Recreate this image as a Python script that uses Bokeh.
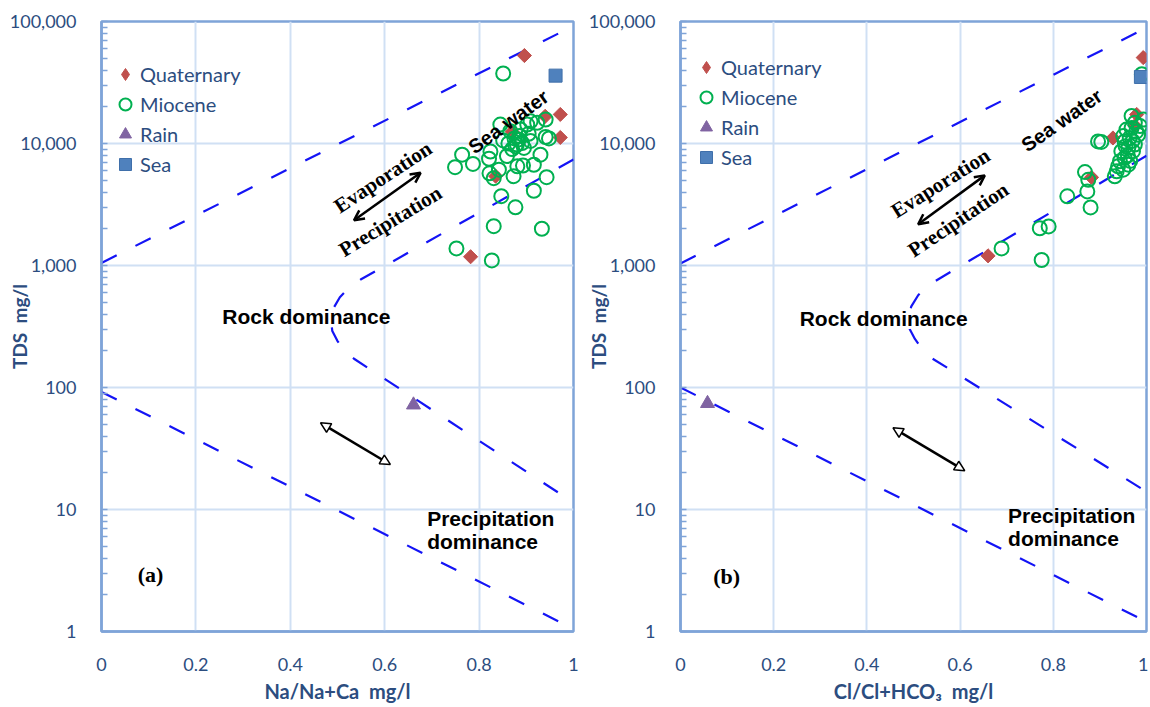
import math
from bokeh.plotting import figure
from bokeh.models import (Range1d, FixedTicker, NumeralTickFormatter, Legend, LegendItem,
                          Arrow, OpenHead, NormalHead, Label)
from bokeh.layouts import row
from bokeh.embed import file_html
from bokeh.resources import INLINE

# ---------------- tick values / labels ----------------
x_ticks = [0, 0.2, 0.4, 0.6, 0.8, 1]
x_tick_labels = ["0", "0.2", "0.4", "0.6", "0.8", "1"]
y_ticks = [1, 10, 100, 1000, 10000, 100000]
y_tick_labels = ["1", "10", "100", "1,000", "10,000", "100,000"]
y_minor = [m * d for d in [1, 10, 100, 1000, 10000] for m in range(2, 10)]

series_names = ["Quaternary", "Miocene", "Rain", "Sea"]

# ---------------- panel (a): Na/(Na+Ca) ----------------
a_quat_x = [0.896, 0.940, 0.972, 0.972, 0.835, 0.782, 0.870]
a_quat_tds = [52600, 16700, 17300, 11200, 5400, 1180, 12500]

a_mio_x = [0.851, 0.764, 0.749, 0.787, 0.821, 0.824, 0.845, 0.851, 0.859, 0.842,
           0.831, 0.873, 0.881, 0.893, 0.916, 0.930, 0.884, 0.877, 0.891, 0.909,
           0.902, 0.923, 0.941, 0.941, 0.948, 0.866, 0.888, 0.909, 0.943, 0.916,
           0.877, 0.847, 0.831, 0.933, 0.752, 0.827, 0.870, 0.880, 0.885, 0.895,
           0.875, 0.862, 0.822, 0.905]
a_mio_tds = [37500, 8100, 6400, 6800, 7500, 8600, 14300, 10600, 7900, 6100,
             5200, 5400, 6500, 6600, 6700, 8100, 10800, 9500, 10100, 10500,
             14300, 14800, 15700, 11300, 11000, 12600, 13000, 15200, 5300, 4100,
             3000, 3700, 2100, 2000, 1380, 1100, 9000, 9800, 11500, 9200,
             11000, 10000, 5700, 12000]

a_rain_x = [0.661]
a_rain_tds = [72]
a_sea_x = [0.962]
a_sea_tds = [36000]

# Gibbs boundaries, panel (a)
a_upper_x = [0.0, 1.0]
a_upper_tds = [1050, 92000]
a_mid_x = [1.0, 0.549, 0.525, 0.505, 0.492, 0.486, 0.489, 0.500, 0.515, 0.535, 1.0]
a_mid_tds = [7400, 767, 660, 550, 450, 360, 290, 240, 200, 172, 11.4]
a_lower_x = [0.0, 1.0]
a_lower_tds = [92, 1.05]

# ---------------- panel (b): Cl/(Cl+HCO3) ----------------
b_quat_x = [0.993, 0.928, 0.979, 0.882, 0.660, 0.975]
b_quat_tds = [50600, 11100, 17300, 5280, 1200, 14000]

b_mio_x = [0.896, 0.903, 0.868, 0.875, 0.873, 0.880, 0.830, 0.771, 0.790, 0.689,
           0.775, 0.939, 0.932, 0.950, 0.953, 0.961, 0.964, 0.968, 0.975, 0.993,
           0.982, 0.971, 0.953, 0.946, 0.943, 0.961, 0.975, 0.986, 0.968, 0.957,
           0.950, 0.936, 0.990, 0.960, 0.970, 0.978, 0.955, 0.965]
b_mio_tds = [10400, 10300, 5830, 5040, 4050, 2990, 3690, 2020, 2090, 1380,
             1110, 6500, 5380, 6100, 7620, 9200, 11100, 13400, 14800, 15700,
             11800, 8650, 10400, 8650, 7150, 6710, 9800, 13900, 16800, 13000,
             11500, 5910, 37000, 8000, 10500, 12500, 9500, 7200]

b_rain_x = [0.058]
b_rain_tds = [74]
b_sea_x = [0.988]
b_sea_tds = [35100]

b_upper_x = [0.0, 1.0]
b_upper_tds = [1040, 89000]
b_mid_x = [1.0, 0.556, 0.530, 0.510, 0.495, 0.490, 0.492, 0.503, 0.517, 0.535, 1.0]
b_mid_tds = [7950, 783, 680, 570, 460, 370, 300, 250, 210, 178, 14]
b_lower_x = [0.0, 1.0]
b_lower_tds = [100, 1.2]

# ---------------- styling ----------------
AXIS_BLUE = "#7FA4D8"
GRID_BLUE = "#D0E0F4"
TEXT_BLUE = "#2C4D7F"
DASH_BLUE = "#1414F5"
Q_COL = "#C0504D"
M_COL = "#00B050"
R_COL = "#8064A2"
S_COL = "#4F81BD"


def make_panel(cfg):
    p = figure(frame_width=cfg["fw"], frame_height=610,
               x_range=Range1d(0, 1), y_range=Range1d(1, 100000),
               y_axis_type="log", output_backend="svg", toolbar_location=None,
               min_border_left=cfg["bl"], min_border_right=cfg["br"],
               min_border_top=21, min_border_bottom=74)
    p.background_fill_color = "white"
    p.border_fill_color = "white"
    p.outline_line_color = AXIS_BLUE
    p.outline_line_width = 2.5

    p.xaxis.ticker = FixedTicker(ticks=x_ticks)
    p.xaxis.formatter = NumeralTickFormatter(format="0.[0]")
    p.xaxis.major_label_overrides = dict(zip(x_ticks, x_tick_labels))
    p.yaxis.ticker = FixedTicker(ticks=y_ticks, minor_ticks=y_minor)
    p.yaxis.formatter = NumeralTickFormatter(format="0,0")
    p.yaxis.major_label_overrides = dict(zip(y_ticks, y_tick_labels))

    for ax in (p.xaxis, p.yaxis):
        ax.axis_line_color = AXIS_BLUE
        ax.axis_line_width = 2.5
        ax.major_label_text_font = "Lato"
        ax.major_label_text_font_size = "18px"
        ax.major_label_text_color = TEXT_BLUE
        ax.axis_label_text_font = "Lato"
        ax.axis_label_text_font_style = "bold"
        ax.axis_label_text_color = TEXT_BLUE
    p.xaxis.major_tick_line_color = None
    p.xaxis.minor_tick_line_color = None
    p.xaxis.major_label_standoff = 20
    p.xaxis.axis_label = cfg["xtitle"]
    p.xaxis.axis_label_text_font_size = "20px"
    p.xaxis.axis_label_standoff = 5

    p.yaxis.major_tick_in = 6
    p.yaxis.major_tick_out = 0
    p.yaxis.minor_tick_in = 6
    p.yaxis.minor_tick_out = 0
    p.yaxis.major_tick_line_color = AXIS_BLUE
    p.yaxis.minor_tick_line_color = AXIS_BLUE
    p.yaxis.major_tick_line_width = 1.5
    p.yaxis.minor_tick_line_width = 1.5
    p.yaxis.major_label_standoff = 25
    p.yaxis.axis_label = "TDS \u00a0mg/l"
    p.yaxis.axis_label_text_font_size = "19px"
    p.yaxis.axis_label_standoff = -24

    p.xgrid.ticker = FixedTicker(ticks=x_ticks)
    p.ygrid.ticker = FixedTicker(ticks=y_ticks)
    for g in (p.xgrid, p.ygrid):
        g.grid_line_color = GRID_BLUE
        g.grid_line_width = 2

    # boundary lines
    for xs, ys in cfg["bounds"]:
        p.line(xs, ys, line_color=DASH_BLUE, line_width=2.2, line_dash="17 21")

    rq = p.scatter(cfg["q"][0], cfg["q"][1], marker="square", angle=math.pi / 4,
                   size=10, fill_color=Q_COL, line_color=Q_COL)
    rq_leg = p.scatter(cfg["q"][0], cfg["q"][1], marker="diamond", size=14,
                       fill_color=Q_COL, line_color=Q_COL, visible=False)
    rm = p.scatter(cfg["m"][0], cfg["m"][1], marker="circle", size=14,
                   fill_alpha=0, line_color=M_COL, line_width=2)
    rr = p.scatter(cfg["r"][0], cfg["r"][1], marker="triangle", size=14,
                   fill_color=R_COL, line_color=R_COL)
    rs = p.scatter(cfg["s"][0], cfg["s"][1], marker="square", size=13,
                   fill_color=S_COL, line_color="#3F6FAA")

    legend = Legend(items=[LegendItem(label=n, renderers=[r])
                           for n, r in zip(series_names, [rq_leg, rm, rr, rs])],
                    location=cfg["legend_loc"], glyph_width=30, glyph_height=30,
                    label_height=30, spacing=0, padding=0, margin=0, label_standoff=-3,
                    border_line_alpha=0, background_fill_alpha=0,
                    inactive_fill_alpha=0,
                    label_text_font="Lato", label_text_font_size="20px",
                    label_text_color=TEXT_BLUE)
    p.add_layout(legend)

    # arrows
    (ux0, uy0, ux1, uy1), (lx0, ly0, lx1, ly1) = cfg["arrows"]
    p.add_layout(Arrow(x_start=ux0, y_start=uy0, x_end=ux1, y_end=uy1,
                       line_width=2.5, line_color="black",
                       start=OpenHead(size=10, line_width=2.5, line_color="black"),
                       end=OpenHead(size=10, line_width=2.5, line_color="black")))
    p.add_layout(Arrow(x_start=lx0, y_start=ly0, x_end=lx1, y_end=ly1,
                       line_width=2.5, line_color="black",
                       start=NormalHead(size=10, line_width=1.5, line_color="black", fill_color="white"),
                       end=NormalHead(size=10, line_width=1.5, line_color="black", fill_color="white")))

    # annotations
    for (txt, x, y, ang, font, size, align) in cfg["texts"]:
        p.add_layout(Label(x=x, y=y, text=txt, angle=math.radians(ang),
                           text_font=font, text_font_style="bold",
                           text_font_size=size, text_color="black",
                           text_align=align, text_baseline="middle"))
    return p


SANS = "Liberation Sans"
SERIF = "Liberation Serif"

cfg_a = dict(fw=472, bl=101, br=10,
             bounds=[(a_upper_x, a_upper_tds), (a_mid_x, a_mid_tds), (a_lower_x, a_lower_tds)],
             q=(a_quat_x, a_quat_tds), m=(a_mio_x, a_mio_tds),
             r=(a_rain_x, a_rain_tds), s=(a_sea_x, a_sea_tds),
             legend_loc=(9, 452),
             arrows=[(0.535, 2350, 0.676, 5750), (0.464, 51.3, 0.612, 23.4)],
             texts=[("Sea water", 0.862, 15100, 36, SANS, "20px", "center"),
                    ("Evaporation", 0.596, 5300, 33.5, SERIF, "21px", "center"),
                    ("Precipitation", 0.612, 2310, 31.5, SERIF, "21px", "center"),
                    ("Rock dominance", 0.434, 380, 0, SANS, "21px", "center"),
                    ("Precipitation", 0.690, 8.43, 0, SANS, "21px", "left"),
                    ("dominance", 0.690, 5.42, 0, SANS, "21px", "left"),
                    ("(a)", 0.104, 2.93, 0, SERIF, "22px", "center")],
             xtitle="Na/Na+Ca \u00a0mg/l")

cfg_b = dict(fw=466, bl=96, br=2,
             bounds=[(b_upper_x, b_upper_tds), (b_mid_x, b_mid_tds), (b_lower_x, b_lower_tds)],
             q=(b_quat_x, b_quat_tds), m=(b_mio_x, b_mio_tds),
             r=(b_rain_x, b_rain_tds), s=(b_sea_x, b_sea_tds),
             legend_loc=(11, 459),
             arrows=[(0.510, 2180, 0.653, 5480), (0.456, 46.7, 0.610, 20.8)],
             texts=[("Sea water", 0.818, 15500, 35, SANS, "20px", "center"),
                    ("Evaporation", 0.558, 4740, 32, SERIF, "21px", "center"),
                    ("Precipitation", 0.596, 2370, 34, SERIF, "21px", "center"),
                    ("Rock dominance", 0.436, 368, 0, SANS, "21px", "center"),
                    ("Precipitation", 0.703, 9.0, 0, SANS, "21px", "left"),
                    ("dominance", 0.703, 5.82, 0, SANS, "21px", "left"),
                    ("(b)", 0.099, 2.8, 0, SERIF, "22px", "center")],
             xtitle="Cl/Cl+HCO\u2083 \u00a0mg/l")

pa = make_panel(cfg_a)
pb = make_panel(cfg_b)

layout = row(pa, pb)
open("out.html", "w").write(file_html(layout, INLINE))
